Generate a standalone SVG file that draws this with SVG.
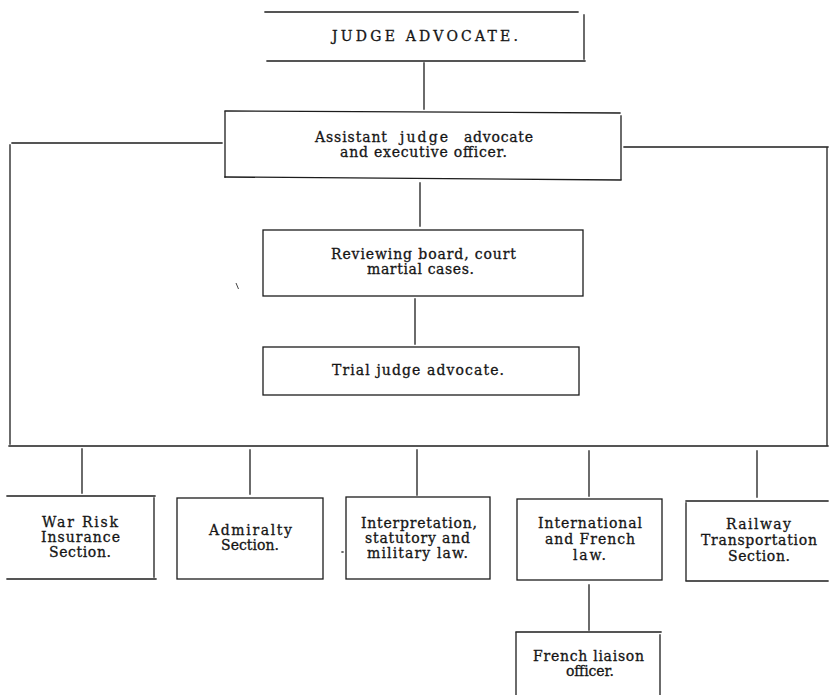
<svg xmlns="http://www.w3.org/2000/svg" width="830" height="695" viewBox="0 0 830 695">
  <style>
    .ln { stroke: #1c1c1c; stroke-width: 1.3; fill: none; stroke-linecap: square; }
    .box { stroke: #1c1c1c; stroke-width: 1.3; fill: none; }
    .t { font-family: "DejaVu Serif", "Liberation Serif", serif; font-size: 14px; fill: #151515; stroke: #151515; stroke-width: 0.3; text-anchor: middle; }
    .ts { text-anchor: start; }
  </style>
  <rect width="830" height="695" fill="#ffffff"/>

  <!-- connectors -->
  <g id="connectors">
    <line class="ln" x1="424" y1="63" x2="424" y2="109"/>
    <!-- left branch down to the bus -->
    <polyline class="ln" points="222,143 12,143"/>
    <polyline class="ln" points="10,145 10,444"/>
    <!-- right branch down to the bus -->
    <polyline class="ln" points="624,147 828,147"/>
    <polyline class="ln" points="827,148 827,445"/>
    <!-- bottom bus -->
    <line class="ln" x1="9" y1="446" x2="828" y2="446"/>
    <line class="ln" x1="420" y1="183" x2="420" y2="226"/>
    <line class="ln" x1="415" y1="299" x2="415" y2="344"/>
    <!-- drops to the sections -->
    <line class="ln" x1="82" y1="449" x2="82" y2="493"/>
    <line class="ln" x1="250" y1="450" x2="250" y2="494"/>
    <line class="ln" x1="417" y1="450" x2="417" y2="495"/>
    <line class="ln" x1="589" y1="451" x2="589" y2="496"/>
    <line class="ln" x1="757" y1="451" x2="757" y2="497"/>
    <line class="ln" x1="589" y1="585" x2="589" y2="630"/>
  </g>

  <!-- stray printer's mark -->
  <line x1="236" y1="283" x2="238.5" y2="289" stroke="#444" stroke-width="1"/>

  <g id="judge-advocate">
    <line class="ln" x1="265" y1="12" x2="578" y2="12"/>
    <line class="ln" x1="584" y1="15" x2="584" y2="59"/>
    <line class="ln" x1="267" y1="61" x2="585" y2="61"/>
    <text class="t" x="425" y="41" textLength="186" lengthAdjust="spacing">JUDGE ADVOCATE.</text>
  </g>

  <g id="assistant-judge-advocate">
    <line class="ln" x1="225" y1="111" x2="620" y2="113"/>
    <line class="ln" x1="225" y1="112" x2="225" y2="177"/>
    <line class="ln" x1="621" y1="116" x2="621" y2="179"/>
    <line class="ln" x1="225" y1="177" x2="621" y2="180"/>
    <text class="t ts" x="315" y="142" textLength="72" lengthAdjust="spacing">Assistant</text>
    <text class="t ts" x="400" y="142" textLength="48" lengthAdjust="spacing">judge</text>
    <text class="t ts" x="464" y="142" textLength="69" lengthAdjust="spacing">advocate</text>
    <text class="t" x="423.5" y="157" textLength="167" lengthAdjust="spacing">and executive officer.</text>
  </g>

  <g id="reviewing-board">
    <rect class="box" x="263" y="230" width="320" height="66"/>
    <text class="t" x="423.5" y="259" textLength="185" lengthAdjust="spacing">Reviewing board, court</text>
    <text class="t" x="420.5" y="274" textLength="107" lengthAdjust="spacing">martial cases.</text>
  </g>

  <g id="trial-judge-advocate">
    <rect class="box" x="263" y="347" width="316" height="48"/>
    <text class="t" x="418" y="375" textLength="172" lengthAdjust="spacing">Trial judge advocate.</text>
  </g>

  <g id="war-risk-insurance">
    <line class="ln" x1="7" y1="496" x2="155" y2="496"/>
    <line class="ln" x1="154" y1="498" x2="154" y2="577"/>
    <line class="ln" x1="7" y1="579" x2="156" y2="579"/>
    <text class="t" x="80" y="527" textLength="76" lengthAdjust="spacing">War Risk</text>
    <text class="t" x="80.5" y="542" textLength="79" lengthAdjust="spacing">Insurance</text>
    <text class="t" x="80" y="557" textLength="62" lengthAdjust="spacing">Section.</text>
  </g>

  <g id="admiralty">
    <rect class="box" x="177" y="498" width="146" height="81"/>
    <text class="t" x="250.5" y="535" textLength="83" lengthAdjust="spacing">Admiralty</text>
    <text class="t" x="250" y="550" textLength="58" lengthAdjust="spacing">Section.</text>
  </g>

  <g id="interpretation">
    <rect class="box" x="346" y="497" width="144" height="82"/>
    <line class="ln" x1="342" y1="552" x2="343" y2="552"/>
    <text class="t" x="419" y="528" textLength="116" lengthAdjust="spacing">Interpretation,</text>
    <text class="t" x="417.5" y="543" textLength="105" lengthAdjust="spacing">statutory and</text>
    <text class="t" x="417.5" y="558" textLength="101" lengthAdjust="spacing">military law.</text>
  </g>

  <g id="international-french-law">
    <rect class="box" x="517" y="499" width="145" height="81"/>
    <text class="t" x="590" y="528" textLength="104" lengthAdjust="spacing">International</text>
    <text class="t" x="590" y="544" textLength="90" lengthAdjust="spacing">and French</text>
    <text class="t" x="589.5" y="560" textLength="33" lengthAdjust="spacing">law.</text>
  </g>

  <g id="railway-transportation">
    <line class="ln" x1="686" y1="501" x2="828" y2="501"/>
    <line class="ln" x1="686" y1="503" x2="686" y2="580"/>
    <line class="ln" x1="686" y1="581" x2="828" y2="581"/>
    <text class="t" x="758.5" y="529" textLength="65" lengthAdjust="spacing">Railway</text>
    <text class="t" x="759" y="545" textLength="116" lengthAdjust="spacing">Transportation</text>
    <text class="t" x="759" y="561" textLength="62" lengthAdjust="spacing">Section.</text>
  </g>

  <g id="french-liaison-officer">
    <line class="ln" x1="516" y1="632" x2="661" y2="632"/>
    <line class="ln" x1="516" y1="633" x2="516" y2="695"/>
    <line class="ln" x1="660" y1="635" x2="660" y2="695"/>
    <text class="t" x="588.5" y="661" textLength="111" lengthAdjust="spacing">French liaison</text>
    <text class="t" x="590" y="676" textLength="48" lengthAdjust="spacing">officer.</text>
  </g>
</svg>
